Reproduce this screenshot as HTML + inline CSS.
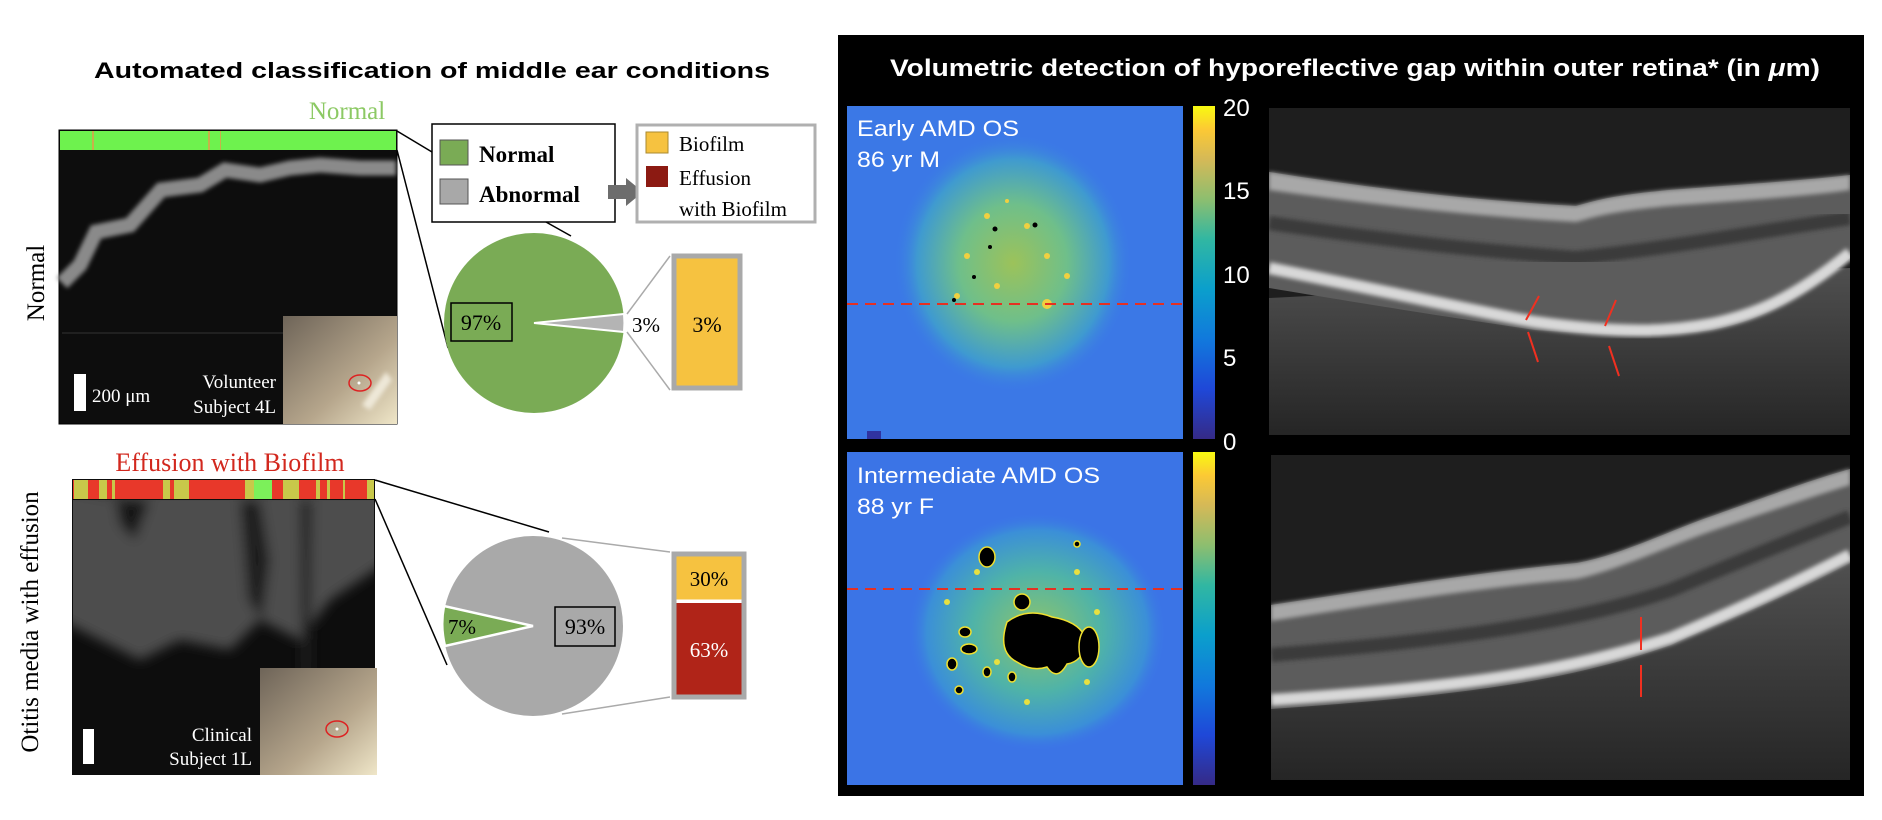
<!DOCTYPE html>
<html><head><meta charset="utf-8"><style>html,body{margin:0;padding:0;background:#fff}svg{display:block}</style></head>
<body>
<svg width="1882" height="820" viewBox="0 0 1882 820" xmlns="http://www.w3.org/2000/svg">
<defs>
<linearGradient id="cb" x1="0" y1="1" x2="0" y2="0">
<stop offset="0" stop-color="#352a87"/><stop offset="0.15" stop-color="#1f48d8"/><stop offset="0.3" stop-color="#1179dc"/><stop offset="0.45" stop-color="#0b9fcc"/><stop offset="0.6" stop-color="#31b7a2"/><stop offset="0.72" stop-color="#8dbe6f"/><stop offset="0.84" stop-color="#d5b957"/><stop offset="0.93" stop-color="#fcc934"/><stop offset="1" stop-color="#f8fa10"/>
</linearGradient>
<radialGradient id="m1" cx="0.5" cy="0.5" r="0.5">
<stop offset="0" stop-color="#9cc25a"/><stop offset="0.45" stop-color="#6fbf8a"/><stop offset="0.8" stop-color="#3f9ad0"/><stop offset="1" stop-color="#3a78e8" stop-opacity="0"/>
</radialGradient>
<radialGradient id="m2" cx="0.5" cy="0.5" r="0.5">
<stop offset="0" stop-color="#8fc46a"/><stop offset="0.5" stop-color="#4fb3a8"/><stop offset="0.85" stop-color="#3b8fd8"/><stop offset="1" stop-color="#3a74e8" stop-opacity="0"/>
</radialGradient>
<linearGradient id="inset" x1="0" y1="0" x2="1" y2="1">
<stop offset="0" stop-color="#6e6458"/><stop offset="0.6" stop-color="#b6a68c"/><stop offset="1" stop-color="#efe6c8"/>
</linearGradient>
<linearGradient id="chor" x1="0" y1="0" x2="0" y2="1">
<stop offset="0" stop-color="#555"/><stop offset="1" stop-color="#262626"/>
</linearGradient>
<filter id="bl"><feGaussianBlur stdDeviation="2"/></filter>
<filter id="bl6"><feGaussianBlur stdDeviation="6"/></filter>
<clipPath id="c2"><rect x="73" y="500" width="301" height="274"/></clipPath>
</defs>

<text x="432" y="78" text-anchor="middle" font-family="Liberation Sans, sans-serif" font-weight="bold" font-size="22" textLength="676" lengthAdjust="spacingAndGlyphs">Automated classification of middle ear conditions</text>
<text x="347" y="119" text-anchor="middle" font-family="Liberation Serif, serif" font-size="25" fill="#8cc964">Normal</text>

<rect x="59" y="130" width="338" height="294" fill="#0d0d0d" stroke="#000" stroke-width="1"/>
<rect x="60" y="131" width="336" height="19" fill="#6ef24e"/>
<rect x="92" y="131" width="2" height="19" fill="#c8b04a"/>
<rect x="208" y="131" width="2" height="19" fill="#c8b04a"/>
<rect x="220" y="131" width="1" height="19" fill="#c8b04a"/>
<polyline points="62,283 80,265 96,232 130,225 161,190 200,185 225,170 260,175 290,168 320,165 360,168 396,168" fill="none" stroke="#8a8a8a" stroke-width="15" filter="url(#bl)"/>
<line x1="62" y1="333" x2="283" y2="333" stroke="#333" stroke-width="1"/>
<rect x="283" y="316" width="114" height="108" fill="url(#inset)"/>
<path d="M386 372 L392 380 L370 410 L362 405 Z" fill="#eee8d8" filter="url(#bl)"/>
<ellipse cx="360" cy="383" rx="11" ry="8" fill="none" stroke="#d22" stroke-width="1.5"/>
<circle cx="359" cy="383" r="1.5" fill="#fff"/>
<rect x="74" y="374" width="12" height="37" fill="#fff"/>
<text x="92" y="402" font-family="Liberation Serif, serif" font-size="19" fill="#fff">200 μm</text>
<text x="276" y="388" text-anchor="end" font-family="Liberation Serif, serif" font-size="19" fill="#fff">Volunteer</text>
<text x="276" y="413" text-anchor="end" font-family="Liberation Serif, serif" font-size="19" fill="#fff">Subject 4L</text>
<text transform="translate(44,283) rotate(-90)" text-anchor="middle" font-family="Liberation Serif, serif" font-size="25">Normal</text>

<line x1="397" y1="131" x2="432" y2="152" stroke="#000" stroke-width="1.5"/>
<line x1="397" y1="150" x2="448" y2="348" stroke="#000" stroke-width="1.5"/>
<line x1="546" y1="222" x2="571" y2="236" stroke="#000" stroke-width="1.5"/>

<rect x="432" y="124" width="183" height="98" fill="#fff" stroke="#000" stroke-width="1.5"/>
<rect x="440" y="140" width="28" height="25" fill="#7aab55" stroke="#555" stroke-width="1"/>
<rect x="440" y="179" width="28" height="25" fill="#a8a8a8" stroke="#555" stroke-width="1"/>
<text x="479" y="162" font-family="Liberation Serif, serif" font-weight="bold" font-size="23">Normal</text>
<text x="479" y="202" font-family="Liberation Serif, serif" font-weight="bold" font-size="23">Abnormal</text>
<path d="M608 185 L626 185 L626 178 L643 192 L626 206 L626 199 L608 199 Z" fill="#6d6d6d"/>
<rect x="637" y="125" width="178" height="97" fill="#fff" stroke="#b0b0b0" stroke-width="3"/>
<rect x="646" y="132" width="22" height="21" fill="#f6c240" stroke="#aa8a30" stroke-width="1"/>
<rect x="646" y="166" width="22" height="21" fill="#8c1a12"/>
<text x="679" y="151" font-family="Liberation Serif, serif" font-size="21">Biofilm</text>
<text x="679" y="185" font-family="Liberation Serif, serif" font-size="21">Effusion</text>
<text x="679" y="216" font-family="Liberation Serif, serif" font-size="21">with Biofilm</text>

<circle cx="534" cy="323" r="90" fill="#7aab55"/>
<path d="M534 323 L624 314 A90 90 0 0 1 624 332 Z" fill="#b4b4b4" stroke="#fff" stroke-width="2"/>
<rect x="451" y="303" width="61" height="38" fill="none" stroke="#000" stroke-width="1.5"/>
<text x="481" y="330" text-anchor="middle" font-family="Liberation Serif, serif" font-size="22">97%</text>
<text x="632" y="332" font-family="Liberation Serif, serif" font-size="21">3%</text>
<line x1="627" y1="314" x2="670" y2="256" stroke="#aaa" stroke-width="1.5"/>
<line x1="627" y1="332" x2="670" y2="390" stroke="#aaa" stroke-width="1.5"/>
<rect x="674" y="256" width="66" height="132" fill="#f6c240" stroke="#a9a9a9" stroke-width="5"/>
<text x="707" y="332" text-anchor="middle" font-family="Liberation Serif, serif" font-size="22">3%</text>

<text x="230" y="471" text-anchor="middle" font-family="Liberation Serif, serif" font-size="26" fill="#d2281e">Effusion with Biofilm</text>
<rect x="72" y="479" width="303" height="296" fill="#0d0d0d"/>
<g>
<rect x="73" y="480" width="301" height="19" fill="#e8382a"/>
<rect x="74" y="480" width="14" height="19" fill="#c8c84a"/>
<rect x="99" y="480" width="8" height="19" fill="#c8c84a"/>
<rect x="112" y="480" width="3" height="19" fill="#c8c84a"/>
<rect x="163" y="480" width="7" height="19" fill="#c8c84a"/>
<rect x="174" y="480" width="15" height="19" fill="#c8c84a"/>
<rect x="245" y="480" width="9" height="19" fill="#c8c84a"/>
<rect x="254" y="480" width="18" height="19" fill="#7cf05a"/>
<rect x="283" y="480" width="16" height="19" fill="#c8c84a"/>
<rect x="316" y="480" width="4" height="19" fill="#c8c84a"/>
<rect x="327" y="480" width="3" height="19" fill="#c8c84a"/>
<rect x="343" y="480" width="2" height="19" fill="#c8c84a"/>
<rect x="367" y="480" width="7" height="19" fill="#c8c84a"/>
</g>
<g clip-path="url(#c2)"><g filter="url(#bl6)">
<path d="M60 490 L390 490 L390 560 L330 600 L300 640 L260 620 L230 650 L180 640 L140 660 L100 640 L60 620 Z" fill="#4e4e4e"/>
<path d="M75 495 L115 495 L120 525 L135 540 L150 500 Z" fill="#151515"/>
<path d="M240 500 L260 500 L270 560 L262 620 L248 600 Z" fill="#1c1c1c"/>
<path d="M300 500 L312 500 L310 680 L302 680 Z" fill="#222"/>
</g></g>
<rect x="260" y="668" width="117" height="107" fill="url(#inset)"/>
<ellipse cx="337" cy="729" rx="11" ry="8" fill="none" stroke="#d22" stroke-width="1.5"/>
<circle cx="337" cy="729" r="1.5" fill="#fff"/>
<rect x="83" y="729" width="11" height="35" fill="#fff"/>
<text x="252" y="741" text-anchor="end" font-family="Liberation Serif, serif" font-size="19" fill="#fff">Clinical</text>
<text x="252" y="765" text-anchor="end" font-family="Liberation Serif, serif" font-size="19" fill="#fff">Subject 1L</text>
<text transform="translate(38,622) rotate(-90)" text-anchor="middle" font-family="Liberation Serif, serif" font-size="25">Otitis media with effusion</text>

<line x1="375" y1="480" x2="549" y2="532" stroke="#000" stroke-width="1.5"/>
<line x1="375" y1="499" x2="447" y2="665" stroke="#000" stroke-width="1.5"/>

<circle cx="533" cy="626" r="90" fill="#a9a9a9"/>
<path d="M533 626 L444 606 A91 91 0 0 0 445 646 Z" fill="#7aab55" stroke="#fff" stroke-width="2.5"/>
<rect x="555" y="607" width="60" height="39" fill="none" stroke="#000" stroke-width="1.5"/>
<text x="585" y="634" text-anchor="middle" font-family="Liberation Serif, serif" font-size="22">93%</text>
<text x="462" y="634" text-anchor="middle" font-family="Liberation Serif, serif" font-size="21">7%</text>
<line x1="562" y1="538" x2="670" y2="552" stroke="#aaa" stroke-width="1.5"/>
<line x1="562" y1="714" x2="670" y2="697" stroke="#aaa" stroke-width="1.5"/>
<rect x="674" y="554" width="70" height="143" fill="#fff" stroke="#a9a9a9" stroke-width="5"/>
<rect x="676.5" y="556.5" width="65" height="43" fill="#f6c240"/>
<rect x="676.5" y="603" width="65" height="91.5" fill="#b02418"/>
<text x="709" y="586" text-anchor="middle" font-family="Liberation Serif, serif" font-size="21">30%</text>
<text x="709" y="657" text-anchor="middle" font-family="Liberation Serif, serif" font-size="21" fill="#fff">63%</text>

<rect x="838" y="35" width="1026" height="761" fill="#000"/>
<text x="1355" y="76" text-anchor="middle" font-family="Liberation Sans, sans-serif" font-weight="bold" font-size="24" fill="#fff" textLength="930" lengthAdjust="spacingAndGlyphs">Volumetric detection of hyporeflective gap within outer retina* (in <tspan font-style="italic">μ</tspan>m)</text>

<svg x="847" y="106" width="336" height="333" overflow="hidden">
<rect width="336" height="333" fill="#3b78e6"/>
<ellipse cx="166" cy="157" rx="120" ry="130" fill="url(#m1)"/>
<g fill="#f0d040">
<circle cx="140" cy="110" r="3"/><circle cx="180" cy="120" r="3"/><circle cx="200" cy="150" r="3"/><circle cx="120" cy="150" r="3"/><circle cx="200" cy="198" r="5"/><circle cx="150" cy="180" r="3"/><circle cx="160" cy="95" r="2"/><circle cx="220" cy="170" r="3"/><circle cx="110" cy="190" r="3"/>
</g>
<g fill="#000"><circle cx="148" cy="123" r="2.5"/><circle cx="188" cy="119" r="2.5"/><circle cx="127" cy="171" r="2"/><circle cx="107" cy="194" r="2"/><circle cx="143" cy="141" r="2"/></g>
<rect x="20" y="325" width="14" height="8" fill="#3033a0"/>
</svg>
<line x1="847" y1="304" x2="1189" y2="304" stroke="#e53022" stroke-width="2" stroke-dasharray="11,7"/>
<text x="857" y="136" font-family="Liberation Sans, sans-serif" font-size="22" fill="#fff" textLength="162" lengthAdjust="spacingAndGlyphs">Early AMD OS</text>
<text x="857" y="167" font-family="Liberation Sans, sans-serif" font-size="22" fill="#fff" textLength="83" lengthAdjust="spacingAndGlyphs">86 yr M</text>

<rect x="1193" y="106" width="22" height="333" fill="url(#cb)"/>
<g font-family="Liberation Sans, sans-serif" font-size="24" fill="#fff">
<text x="1223" y="116">20</text><text x="1223" y="199">15</text><text x="1223" y="283">10</text><text x="1223" y="366">5</text><text x="1223" y="450">0</text>
</g>

<svg x="847" y="452" width="336" height="333" overflow="hidden">
<rect width="336" height="333" fill="#3b74e6"/>
<ellipse cx="190" cy="180" rx="130" ry="120" fill="url(#m2)"/>
<g fill="#e8e040"><circle cx="130" cy="120" r="3"/><circle cx="100" cy="150" r="3"/><circle cx="230" cy="120" r="3"/><circle cx="150" cy="210" r="3"/><circle cx="240" cy="230" r="3"/><circle cx="180" cy="250" r="3"/><circle cx="250" cy="160" r="3"/></g>
<g fill="#000" stroke="#f0e030" stroke-width="1.5">
<path d="M160 170 Q180 155 205 165 Q235 170 240 190 Q235 210 220 212 Q210 230 200 215 Q185 220 170 210 Q150 200 160 170 Z"/>
<ellipse cx="242" cy="195" rx="10" ry="20"/>
<ellipse cx="140" cy="105" rx="8" ry="10"/>
<ellipse cx="175" cy="150" rx="8" ry="8"/>
<ellipse cx="118" cy="180" rx="6" ry="5"/>
<ellipse cx="122" cy="197" rx="8" ry="5"/>
<ellipse cx="105" cy="212" rx="5" ry="6"/>
<ellipse cx="140" cy="220" rx="4" ry="5"/>
<ellipse cx="230" cy="92" rx="3" ry="3"/>
<ellipse cx="112" cy="238" rx="4" ry="4"/>
<ellipse cx="165" cy="225" rx="4" ry="5"/>
</g>
</svg>
<line x1="847" y1="589" x2="1189" y2="589" stroke="#e53022" stroke-width="2" stroke-dasharray="11,7"/>
<text x="857" y="483" font-family="Liberation Sans, sans-serif" font-size="22" fill="#fff" textLength="243" lengthAdjust="spacingAndGlyphs">Intermediate AMD OS</text>
<text x="857" y="514" font-family="Liberation Sans, sans-serif" font-size="22" fill="#fff" textLength="77" lengthAdjust="spacingAndGlyphs">88 yr F</text>
<rect x="1193" y="452" width="22" height="333" fill="url(#cb)"/>

<svg x="1269" y="108" width="581" height="327" overflow="hidden">
<rect width="581" height="327" fill="#1e1e1e"/>
<path d="M0 190 L0 327 L581 327 L581 160 Z" fill="url(#chor)" opacity="0.9"/>
<path d="M0 64 C100 80 200 92 307 98 C330 92 340 88 400 82 C480 76 540 72 581 67 L581 150 C520 200 480 215 442 222 C400 228 350 228 266 222 C220 215 150 205 0 180 Z" fill="#5c5c5c"/>
<path d="M0 64 C100 80 200 92 307 98 C330 92 340 88 400 82 C480 76 540 72 581 67 L581 82 C540 88 480 92 400 98 C340 104 330 108 307 114 C200 108 100 96 0 82 Z" fill="#a8a8a8" filter="url(#bl)"/>
<path d="M0 115 C100 130 200 142 307 150 C400 140 480 125 581 110" fill="none" stroke="#3a3a3a" stroke-width="14" filter="url(#bl)"/>
<path d="M0 160 C150 190 220 206 266 214 C350 226 400 224 442 216 C480 208 520 195 581 145" fill="none" stroke="#d8d8d8" stroke-width="12" filter="url(#bl)"/>
<g stroke="#f03020" stroke-width="2">
<line x1="270" y1="188" x2="257" y2="212"/><line x1="269" y1="254" x2="259" y2="224"/>
<line x1="347" y1="192" x2="336" y2="218"/><line x1="350" y1="268" x2="340" y2="238"/>
</g>
</svg>

<svg x="1271" y="455" width="579" height="325" overflow="hidden">
<rect width="579" height="325" fill="#1e1e1e"/>
<path d="M0 254 L0 325 L579 325 L579 108 Z" fill="url(#chor)" opacity="0.9"/>
<path d="M0 150 C100 135 200 118 306 108 C350 100 400 75 441 61 C500 40 540 25 579 14 L579 108 C500 150 440 170 400 190 C300 225 200 240 0 254 Z" fill="#5c5c5c"/>
<path d="M0 150 C100 135 200 118 306 108 C350 100 400 75 441 61 C500 40 540 25 579 14 L579 30 C540 42 500 56 441 76 C400 90 350 114 306 124 C200 134 100 150 0 166 Z" fill="#a8a8a8" filter="url(#bl)"/>
<path d="M0 200 C150 188 300 170 400 135 C460 110 520 85 579 62" fill="none" stroke="#3a3a3a" stroke-width="14" filter="url(#bl)"/>
<path d="M0 245 C200 232 300 215 400 183 C450 162 500 140 579 100" fill="none" stroke="#d8d8d8" stroke-width="12" filter="url(#bl)"/>
<g stroke="#f03020" stroke-width="2"><line x1="370" y1="162" x2="370" y2="195"/><line x1="370" y1="210" x2="370" y2="242"/></g>
</svg>
</svg>
</body></html>
